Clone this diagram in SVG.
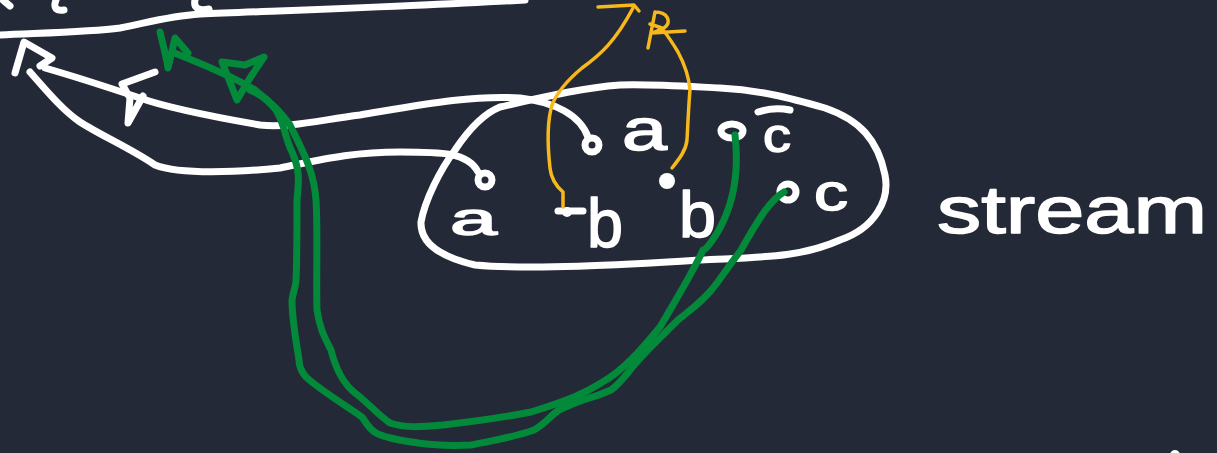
<svg xmlns="http://www.w3.org/2000/svg" width="1217" height="453" viewBox="0 0 1217 453">
  <style>
    .ink { fill: none; stroke: #ffffff; stroke-width: 7; stroke-linecap: round; stroke-linejoin: round; }
    .grn { fill: none; stroke: #028a3a; stroke-width: 7; stroke-linecap: round; stroke-linejoin: round; }
    .ylw { fill: none; stroke: #f6b81a; stroke-width: 3.5; stroke-linecap: round; stroke-linejoin: round; }
    .lbl { fill: #ffffff; stroke: #ffffff; stroke-width: 1.5; stroke-linejoin: round; font-family: "Liberation Sans", Arial, sans-serif; }
    .dot { fill: #ffffff; }
  </style>

  <rect width="1217" height="453" fill="#232936"/>

  <!-- top border strokes -->
  <g id="top-edge">
    <path class="ink" d="M0,35 C40,33 90,32 120,28 C150,22 170,16 200,14 C300,10 420,6 525,0"/>
    <path class="ink" d="M3,0 L10,6"/>
    <path class="ink" d="M56,0 C53,8 56,11 64,10"/>
    <path class="ink" d="M195,0 C193,9 200,11 209,9"/>
  </g>

  <!-- stream container -->
  <g id="stream">
    <path class="ink" d="M455,150 C440,170 425,200 421,222 C420,245 445,258 475,265 C530,270 620,265 700,260 C760,257 800,258 840,240 C875,228 890,200 885,175 C878,140 860,120 825,108 C790,98 760,90 720,88 C680,86 650,84 620,85 C580,88 540,98 500,107 C480,115 465,135 455,150 Z"/>
    <text class="lbl" x="937" y="233" font-size="66" textLength="270" lengthAdjust="spacingAndGlyphs">stream</text>
  </g>

  <!-- elements inside the stream -->
  <g id="node-a1">
    <circle class="ink" cx="485" cy="180" r="7"/>
    <text class="lbl" x="450" y="235" font-size="46" textLength="47" lengthAdjust="spacingAndGlyphs">a</text>
  </g>
  <g id="node-a2">
    <circle class="ink" cx="592" cy="145" r="7" stroke-width="6"/>
    <text class="lbl" x="622" y="150" font-size="60" textLength="45" lengthAdjust="spacingAndGlyphs">a</text>
  </g>
  <g id="node-b1">
    <path class="ink" d="M558,211 L583,211"/>
    <circle class="dot" cx="567" cy="212" r="5"/>
    <text class="lbl" x="587" y="247" font-size="68" textLength="36" lengthAdjust="spacingAndGlyphs">b</text>
  </g>
  <g id="node-b2">
    <circle class="dot" cx="667" cy="181" r="8"/>
    <text class="lbl" x="679" y="237" font-size="64" textLength="37" lengthAdjust="spacingAndGlyphs">b</text>
  </g>
  <g id="node-c1">
    <ellipse class="ink" cx="732" cy="131" rx="11" ry="7"/>
    <path class="ink" d="M758,112 C770,108 780,108 790,110"/>
    <text class="lbl" x="763" y="152" font-size="48" textLength="28" lengthAdjust="spacingAndGlyphs">c</text>
  </g>
  <g id="node-c2">
    <circle class="ink" cx="788" cy="192" r="8"/>
    <text class="lbl" x="814" y="210" font-size="52" textLength="34" lengthAdjust="spacingAndGlyphs">c</text>
  </g>

  <circle class="dot" cx="1175" cy="455" r="5"/>

  <!-- connectors -->
  <g id="connectors">
    <!-- white links from a, a back to the left -->
    <path class="ink" d="M15,73 L24,42 L52,58 L40,66"/>
    <path class="ink" d="M45,68 C80,78 110,88 140,98 C165,107 220,118 260,125 C290,128 320,120 360,115 C420,105 470,95 520,98 C555,102 580,115 588,137"/>
    <path class="ink" d="M155,72 L122,84 L130,98 L128,123 L143,96"/>
    <path class="ink" d="M30,72 C50,95 65,112 80,122 C100,135 130,148 155,165 C180,175 240,172 280,168 C320,160 350,152 400,152 C440,152 468,152 478,172"/>

    <!-- yellow links from b, b upward -->
    <path class="ylw" d="M563,207 L563,192 C556,186 551,178 550,168 C548,150 546,125 552,105 C558,90 570,78 582,68 C600,55 615,42 633,8"/>
    <path class="ylw" d="M598,7 L634,5 L639,11"/>
    <path class="ylw" d="M672,168 C680,158 686,150 687,140 C688,120 689,100 690,90 C689,78 685,65 678,52 C672,42 668,36 663,30"/>
    <path class="ylw" d="M655,12 L648,48 M655,12 C668,12 672,22 664,28 L652,33 L685,31 M650,24 L662,28"/>

    <!-- green links from c, c back to the left -->
    <path class="grn" d="M735,135 C739,170 735,200 720,228 C712,242 706,250 703,250 C695,268 682,290 660,327 C645,345 625,370 601,383 C585,393 570,400 531,412 C505,417 470,422 443,425 C420,427 405,428 390,423 C378,415 365,400 355,393 C345,385 336,370 331,350 C325,338 320,330 317,310 C316,280 318,230 316,200 C314,170 302,150 290,125 C280,110 268,100 255,90 C235,78 200,63 172,52"/>
    <path class="grn" d="M784,192 C770,200 758,220 741,250 C732,262 725,272 717,283 C705,300 690,310 678,320 C660,338 645,352 636,363 C628,372 620,384 611,390 C598,396 590,398 583,400 C570,405 565,407 559,410 C550,416 545,424 534,430 C515,437 490,441 471,445 C450,446 432,445 418,443 C400,440 385,438 376,433 C368,428 366,422 362,417 C345,405 320,390 306,377 C300,370 299,365 299,360 C296,340 292,320 292,300 C293,292 296,286 296,280 C297,260 297,230 297,200 C299,180 300,170 292,152 C285,138 285,125 276,110 C268,100 260,94 250,90"/>
    <path class="grn" d="M160,32 C163,45 166,55 168,68 L175,38 L188,53"/>
    <path class="grn" d="M222,62 L237,100 L250,78 L264,57 L245,65 Z"/>
  </g>
</svg>
